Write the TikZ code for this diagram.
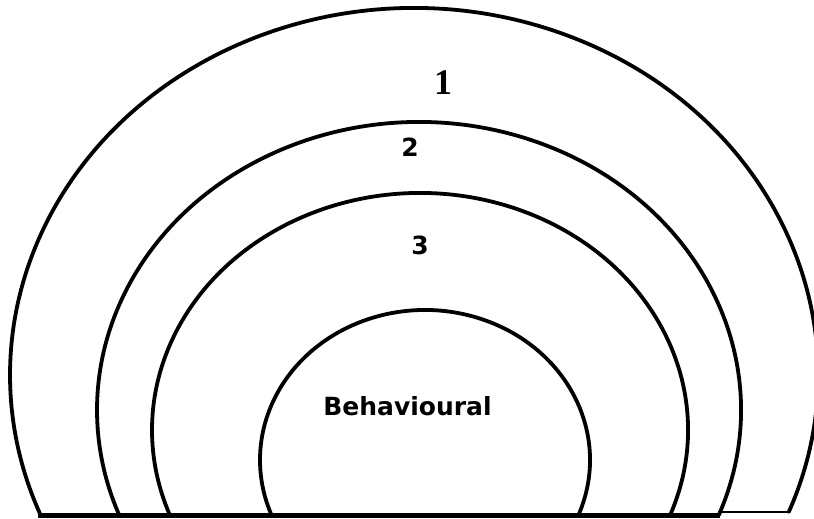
\documentclass[tikz,border=0pt]{standalone}
\usepackage{fontspec}
\newfontfamily\labfont{DejaVu Sans}
\newfontfamily\onefont{Liberation Serif}
\begin{document}
\begin{tikzpicture}[x=1pt,y=1pt,
  ring/.style={line width=3.8pt,line cap=round},
  lab/.style={inner sep=0pt,anchor=base,font=\labfont\bfseries\fontsize{25}{28}\selectfont},
  onelab/.style={inner sep=0pt,anchor=base,font=\onefont\bfseries\fontsize{36}{40}\selectfont}]
\useasboundingbox (0,0) rectangle (814,519);
% outer ring (1)
\draw[ring] ([shift={(-21.9:404 and 367)}]414,144) arc[start angle=-21.9,end angle=202.2,x radius=404,y radius=367];
% ring 2
\draw[ring] ([shift={(-21.4:322 and 288)}]419,109) arc[start angle=-21.4,end angle=201.4,x radius=322,y radius=288];
% ring 3
\draw[ring] ([shift={(-21.0:268 and 237)}]420,89) arc[start angle=-21.0,end angle=201.0,x radius=268,y radius=237];
% inner (Behavioural)
\draw[ring] ([shift={(-21.5:165 and 150)}]425,59) arc[start angle=-21.5,end angle=201.5,x radius=165,y radius=150];
% base lines
\coordinate (bl) at (38,3);
\coordinate (br) at (720,3);
\coordinate (sl) at (718,7);
\coordinate (sr) at (789,7);
\draw[line width=5pt] (bl) -- (br);
\draw[line width=2.8pt] (sl) -- (sr);
% labels
\node[onelab] (one) at (443,424) {1};
\node[lab] (two) at (410,362) {2};
\node[lab] (three) at (420,264) {3};
\node[lab] (beh) at (407.5,103) {Behavioural};
\end{tikzpicture}
\end{document}
